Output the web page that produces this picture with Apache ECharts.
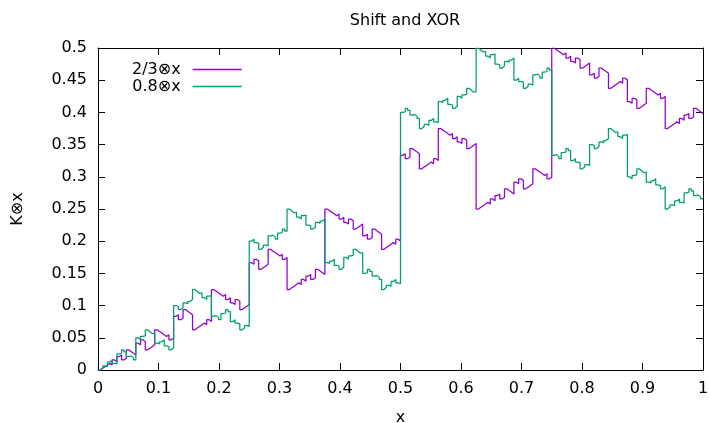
<!DOCTYPE html>
<html>
<head>
<meta charset="utf-8">
<script src="https://cdn.jsdelivr.net/npm/echarts@6/dist/echarts.min.js"></script>
<style>
  html, body { margin: 0; padding: 0; background: #fff; }
  #chart { width: 709px; height: 423px; }
</style>
</head>
<body>
<div id="chart"></div>
<script>
// Samples of K⊗x (shift-and-XOR product) on [0, 1), one value per 1/256 step.
const samplesPerUnit = 256;

const seriesNames = ['2/3⊗x', '0.8⊗x'];
const seriesColors = ['#9400d3', '#009e73'];

const twoThirds = [
  0, 0.0026, 0.0052, 0.0078, 0.0104, 0.0078, 0.0156, 0.0130, 0.0208, 0.0234, 0.0156, 0.0182, 0.0313, 0.0286, 0.0260, 0.0234,
  0.0417, 0.0391, 0.0469, 0.0443, 0.0313, 0.0339, 0.0365, 0.0391, 0.0625, 0.0599, 0.0573, 0.0547, 0.0521, 0.0547, 0.0469, 0.0495,
  0.0833, 0.0859, 0.0781, 0.0807, 0.0938, 0.0911, 0.0885, 0.0859, 0.0625, 0.0651, 0.0677, 0.0703, 0.0729, 0.0703, 0.0781, 0.0755,
  0.125, 0.1224, 0.1198, 0.1172, 0.1146, 0.1172, 0.1094, 0.1120, 0.1042, 0.1016, 0.1094, 0.1068, 0.0938, 0.0964, 0.0990, 0.1016,
  0.1667, 0.1641, 0.1719, 0.1693, 0.1563, 0.1589, 0.1615, 0.1641, 0.1875, 0.1849, 0.1823, 0.1797, 0.1771, 0.1797, 0.1719, 0.1745,
  0.125, 0.1276, 0.1302, 0.1328, 0.1354, 0.1328, 0.1406, 0.1380, 0.1458, 0.1484, 0.1406, 0.1432, 0.1563, 0.1536, 0.1510, 0.1484,
  0.25, 0.2474, 0.2448, 0.2422, 0.2396, 0.2422, 0.2344, 0.2370, 0.2292, 0.2266, 0.2344, 0.2318, 0.2188, 0.2214, 0.2240, 0.2266,
  0.2083, 0.2109, 0.2031, 0.2057, 0.2188, 0.2161, 0.2135, 0.2109, 0.1875, 0.1901, 0.1927, 0.1953, 0.1979, 0.1953, 0.2031, 0.2005,
  0.3333, 0.3359, 0.3281, 0.3307, 0.3438, 0.3411, 0.3385, 0.3359, 0.3125, 0.3151, 0.3177, 0.3203, 0.3229, 0.3203, 0.3281, 0.3255,
  0.375, 0.3724, 0.3698, 0.3672, 0.3646, 0.3672, 0.3594, 0.3620, 0.3542, 0.3516, 0.3594, 0.3568, 0.3438, 0.3464, 0.3490, 0.3516,
  0.25, 0.2526, 0.2552, 0.2578, 0.2604, 0.2578, 0.2656, 0.2630, 0.2708, 0.2734, 0.2656, 0.2682, 0.2813, 0.2786, 0.2760, 0.2734,
  0.2917, 0.2891, 0.2969, 0.2943, 0.2813, 0.2839, 0.2865, 0.2891, 0.3125, 0.3099, 0.3073, 0.3047, 0.3021, 0.3047, 0.2969, 0.2995,
  0.5, 0.4974, 0.4948, 0.4922, 0.4896, 0.4922, 0.4844, 0.4870, 0.4792, 0.4766, 0.4844, 0.4818, 0.4688, 0.4714, 0.4740, 0.4766,
  0.4583, 0.4609, 0.4531, 0.4557, 0.4688, 0.4661, 0.4635, 0.4609, 0.4375, 0.4401, 0.4427, 0.4453, 0.4479, 0.4453, 0.4531, 0.4505,
  0.4167, 0.4141, 0.4219, 0.4193, 0.4063, 0.4089, 0.4115, 0.4141, 0.4375, 0.4349, 0.4323, 0.4297, 0.4271, 0.4297, 0.4219, 0.4245,
  0.375, 0.3776, 0.3802, 0.3828, 0.3854, 0.3828, 0.3906, 0.3880, 0.3958, 0.3984, 0.3906, 0.3932, 0.4063, 0.4036, 0.4010, 0.3984
];

const zeroPointEight = [
  0, 0.0031, 0.0063, 0.0052, 0.0125, 0.0156, 0.0104, 0.0094, 0.025, 0.0260, 0.0313, 0.0281, 0.0208, 0.0219, 0.0188, 0.0156,
  0.05, 0.0469, 0.0521, 0.0531, 0.0625, 0.0594, 0.0563, 0.0573, 0.0417, 0.0406, 0.0438, 0.0469, 0.0375, 0.0365, 0.0313, 0.0344,
  0.1, 0.0990, 0.0938, 0.0969, 0.1042, 0.1031, 0.1063, 0.1094, 0.125, 0.1219, 0.1188, 0.1198, 0.1125, 0.1094, 0.1146, 0.1156,
  0.0833, 0.0844, 0.0813, 0.0781, 0.0875, 0.0885, 0.0938, 0.0906, 0.075, 0.0781, 0.0729, 0.0719, 0.0625, 0.0656, 0.0688, 0.0677,
  0.2, 0.2031, 0.1979, 0.1969, 0.1875, 0.1906, 0.1938, 0.1927, 0.2083, 0.2094, 0.2063, 0.2031, 0.2125, 0.2135, 0.2188, 0.2156,
  0.25, 0.2469, 0.2438, 0.2448, 0.2375, 0.2344, 0.2396, 0.2406, 0.225, 0.2240, 0.2188, 0.2219, 0.2292, 0.2281, 0.2313, 0.2344,
  0.1667, 0.1656, 0.1688, 0.1719, 0.1625, 0.1615, 0.1563, 0.1594, 0.175, 0.1719, 0.1771, 0.1781, 0.1875, 0.1844, 0.1813, 0.1823,
  0.15, 0.1510, 0.1563, 0.1531, 0.1458, 0.1469, 0.1438, 0.1406, 0.125, 0.1281, 0.1313, 0.1302, 0.1375, 0.1406, 0.1354, 0.1344,
  0.4, 0.4010, 0.4063, 0.4031, 0.3958, 0.3969, 0.3938, 0.3906, 0.375, 0.3781, 0.3813, 0.3802, 0.3875, 0.3906, 0.3854, 0.3844,
  0.4167, 0.4156, 0.4188, 0.4219, 0.4125, 0.4115, 0.4063, 0.4094, 0.425, 0.4219, 0.4271, 0.4281, 0.4375, 0.4344, 0.4313, 0.4323,
  0.5, 0.4969, 0.4938, 0.4948, 0.4875, 0.4844, 0.4896, 0.4906, 0.475, 0.4740, 0.4688, 0.4719, 0.4792, 0.4781, 0.4813, 0.4844,
  0.45, 0.4531, 0.4479, 0.4469, 0.4375, 0.4406, 0.4438, 0.4427, 0.4583, 0.4594, 0.4563, 0.4531, 0.4625, 0.4635, 0.4688, 0.4656,
  0.3333, 0.3344, 0.3313, 0.3281, 0.3375, 0.3385, 0.3438, 0.3406, 0.325, 0.3281, 0.3229, 0.3219, 0.3125, 0.3156, 0.3188, 0.3177,
  0.35, 0.3490, 0.3438, 0.3469, 0.3542, 0.3531, 0.3563, 0.3594, 0.375, 0.3719, 0.3688, 0.3698, 0.3625, 0.3594, 0.3646, 0.3656,
  0.3, 0.2969, 0.3021, 0.3031, 0.3125, 0.3094, 0.3063, 0.3073, 0.2917, 0.2906, 0.2938, 0.2969, 0.2875, 0.2865, 0.2813, 0.2844,
  0.25, 0.2531, 0.2563, 0.2552, 0.2625, 0.2656, 0.2604, 0.2594, 0.275, 0.2760, 0.2813, 0.2781, 0.2708, 0.2719, 0.2688, 0.2656
];

const xRange = [0, 1, 0.1];
const yRange = [0, 0.5, 0.05];

// Pair each sample with its x position; the last level is held to x = 1.
function toPoints(values) {
  const pts = values.map((v, i) => [i / samplesPerUnit, v]);
  pts.push([values.length / samplesPerUnit, values[values.length - 1]]);
  return pts;
}

const font = 'DejaVu Sans';
const textStyle = { fontFamily: font, fontSize: 16, color: '#000' };
const axisLine = { show: true, onZero: false, lineStyle: { color: '#000', width: 1 } };
const tickStyle = { show: true, inside: true, length: 7, lineStyle: { color: '#000', width: 1 } };

const chart = echarts.init(document.getElementById('chart'), null, { renderer: 'canvas' });

chart.setOption({
  animation: false,
  backgroundColor: '#fff',
  textStyle: { fontFamily: font },
  title: {
    text: 'Shift and XOR',
    left: 400, top: 8, textAlign: 'center',
    textStyle: { fontFamily: font, fontSize: 16, fontWeight: 'normal', color: '#000' }
  },
  grid: { left: 98, right: 6, top: 48, bottom: 53, outerBoundsMode: 'none', containLabel: false },
  legend: {
    orient: 'vertical',
    left: 127, top: 56,
    align: 'right',
    itemWidth: 49, itemHeight: 1.5,
    itemGap: 0,
    icon: 'rect',
    textStyle: { fontFamily: font, fontSize: 16, color: '#000', lineHeight: 17, padding: [0, 7, 0, 0] },
    data: seriesNames
  },
  xAxis: [
    {
      type: 'value', position: 'bottom',
      min: xRange[0], max: xRange[1], interval: xRange[2],
      name: 'x', nameLocation: 'middle', nameGap: 40,
      nameTextStyle: textStyle,
      axisLine, axisTick: tickStyle,
      axisLabel: Object.assign({ margin: 11 }, textStyle),
      splitLine: { show: false }
    },
    {
      type: 'value', position: 'top',
      min: xRange[0], max: xRange[1], interval: xRange[2],
      axisLine, axisTick: tickStyle,
      axisLabel: { show: false }, splitLine: { show: false }
    }
  ],
  yAxis: [
    {
      type: 'value', position: 'left',
      min: yRange[0], max: yRange[1], interval: yRange[2],
      name: 'K⊗x', nameLocation: 'middle', nameGap: 72, nameRotate: 90,
      nameTextStyle: textStyle,
      axisLine, axisTick: tickStyle,
      axisLabel: Object.assign({ margin: 11 }, textStyle),
      splitLine: { show: false }
    },
    {
      type: 'value', position: 'right',
      min: yRange[0], max: yRange[1], interval: yRange[2],
      axisLine, axisTick: tickStyle,
      axisLabel: { show: false }, splitLine: { show: false }
    }
  ],
  series: [twoThirds, zeroPointEight].map((values, i) => ({
    name: seriesNames[i],
    type: 'line',
    step: 'end',
    xAxisIndex: 0, yAxisIndex: 0,
    showSymbol: false, symbol: 'none',
    color: seriesColors[i],
    lineStyle: { color: seriesColors[i], width: 1.25 },
    data: toPoints(values)
  }))
});
</script>
</body>
</html>
